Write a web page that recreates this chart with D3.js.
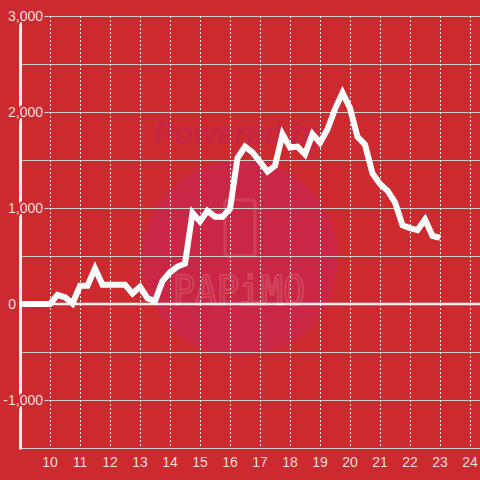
<!DOCTYPE html>
<html><head><meta charset="utf-8">
<script src="https://cdn.jsdelivr.net/npm/d3@7"></script>
<style>html,body{margin:0;padding:0;background:#cd2a2f;}svg{display:block;}</style>
</head><body>
<svg id="c" width="480" height="480"></svg>
<script>
const times = [9,9.25,9.5,9.75,10,10.25,10.5,10.75,11,11.25,11.5,11.75,12,12.25,12.5,12.75,13,13.25,13.5,13.75,14,14.25,14.5,14.75,15,15.25,15.5,15.75,16,16.25,16.5,16.75,17,17.25,17.5,17.75,18,18.25,18.5,18.75,19,19.25,19.5,19.75,20,20.25,20.5,20.75,21,21.25,21.5,21.75,22,22.25,22.5,22.75,23];
const values = [0,0,0,0,0,95,70,5,190,190,370,200,200,200,200,110,180,60,30,240,330,390,420,950,860,970,910,910,990,1520,1640,1580,1480,1380,1440,1770,1630,1640,1560,1770,1680,1820,2030,2200,2040,1740,1660,1360,1250,1180,1060,820,790,770,880,710,690];
const xTicks = [10,11,12,13,14,15,16,17,18,19,20,21,22,23,24];
const yLabelTicks = [3000,2000,1000,0,-1000];
const yLabelTexts = ["3,000","2,000","1,000","0","-1,000"];
const yGridTicks = [3000,2500,2000,1500,1000,500,-500,-1000,-1500];

const bg = "#cd2a2f";
const svg = d3.select("#c");
const x = d3.scaleLinear().domain([9,24]).range([20,470]);
const y = d3.scaleLinear().domain([-1500,3000]).range([448,16]);

svg.append("rect").attr("width",480).attr("height",480).attr("fill",bg);

// watermark
const wm = svg.append("g");
wm.append("circle").attr("cx",240).attr("cy",258).attr("r",98).attr("fill","#c92745");
wm.append("text").attr("x",240).attr("y",144).attr("text-anchor","middle")
  .attr("font-family","Liberation Sans, Arial, sans-serif").attr("font-weight","bold").attr("font-style","italic")
  .attr("font-size",31).attr("fill","#c5264a").attr("fill-opacity",0.9).text("Powered by");
wm.append("rect").attr("x",225).attr("y",200).attr("width",30).attr("height",56).attr("rx",3)
  .attr("fill","none").attr("stroke","#dd6070").attr("stroke-opacity",0.45).attr("stroke-width",3);
wm.append("text").attr("x",173).attr("y",305).attr("textLength",132).attr("lengthAdjust","spacingAndGlyphs")
  .attr("font-family","DejaVu Sans Mono, monospace").attr("font-size",40).attr("font-weight","normal")
  .attr("fill","none").attr("stroke","#e06a78").attr("stroke-opacity",0.45).attr("stroke-width",2.2).text("PAPiMO");

// horizontal gridlines
svg.append("g").selectAll("line").data(yGridTicks).join("line")
  .attr("x1",20).attr("x2",480)
  .attr("y1",d=>Math.round(y(d))+0.5).attr("y2",d=>Math.round(y(d))+0.5)
  .attr("stroke","#cfcfcf").attr("stroke-width",1);

// vertical dotted gridlines
svg.append("g").selectAll("line").data(xTicks).join("line")
  .attr("x1",d=>Math.round(x(d))+0.5).attr("x2",d=>Math.round(x(d))+0.5)
  .attr("y1",16).attr("y2",448)
  .attr("stroke","#f0e6e6").attr("stroke-width",1).attr("stroke-dasharray","2,2");

// zero line
svg.append("line").attr("x1",20).attr("x2",480).attr("y1",y(0)).attr("y2",y(0))
  .attr("stroke","#f8f4f4").attr("stroke-width",2.5);

// left axis line
svg.append("line").attr("x1",20.5).attr("x2",20.5).attr("y1",16).attr("y2",449.5)
  .attr("stroke","#f4f0f0").attr("stroke-width",3);

// data line
const line = d3.line().x((d,i)=>x(times[i])).y(d=>y(d));
svg.append("path").datum(values).attr("d",line).attr("fill","none")
  .attr("stroke","#ffffff").attr("stroke-width",6).attr("stroke-linejoin","miter").attr("stroke-miterlimit",4);

// y labels
svg.append("g").selectAll("text").data(yLabelTicks).join("text")
  .attr("x",d=>d===0?16:43).attr("y",d=>y(d)+5).attr("text-anchor","end")
  .attr("font-family","Liberation Sans, Arial, sans-serif").attr("font-size",14)
  .attr("fill","#f3dcdc").attr("stroke",bg).attr("stroke-width",4).attr("paint-order","stroke")
  .text((d,i)=>yLabelTexts[i]);

// x labels
svg.append("g").selectAll("text").data(xTicks).join("text")
  .attr("x",d=>x(d)).attr("y",467).attr("text-anchor","middle")
  .attr("font-family","Liberation Sans, Arial, sans-serif").attr("font-size",14)
  .attr("fill","#f3dcdc").text(d=>d);
</script>
</body></html>
